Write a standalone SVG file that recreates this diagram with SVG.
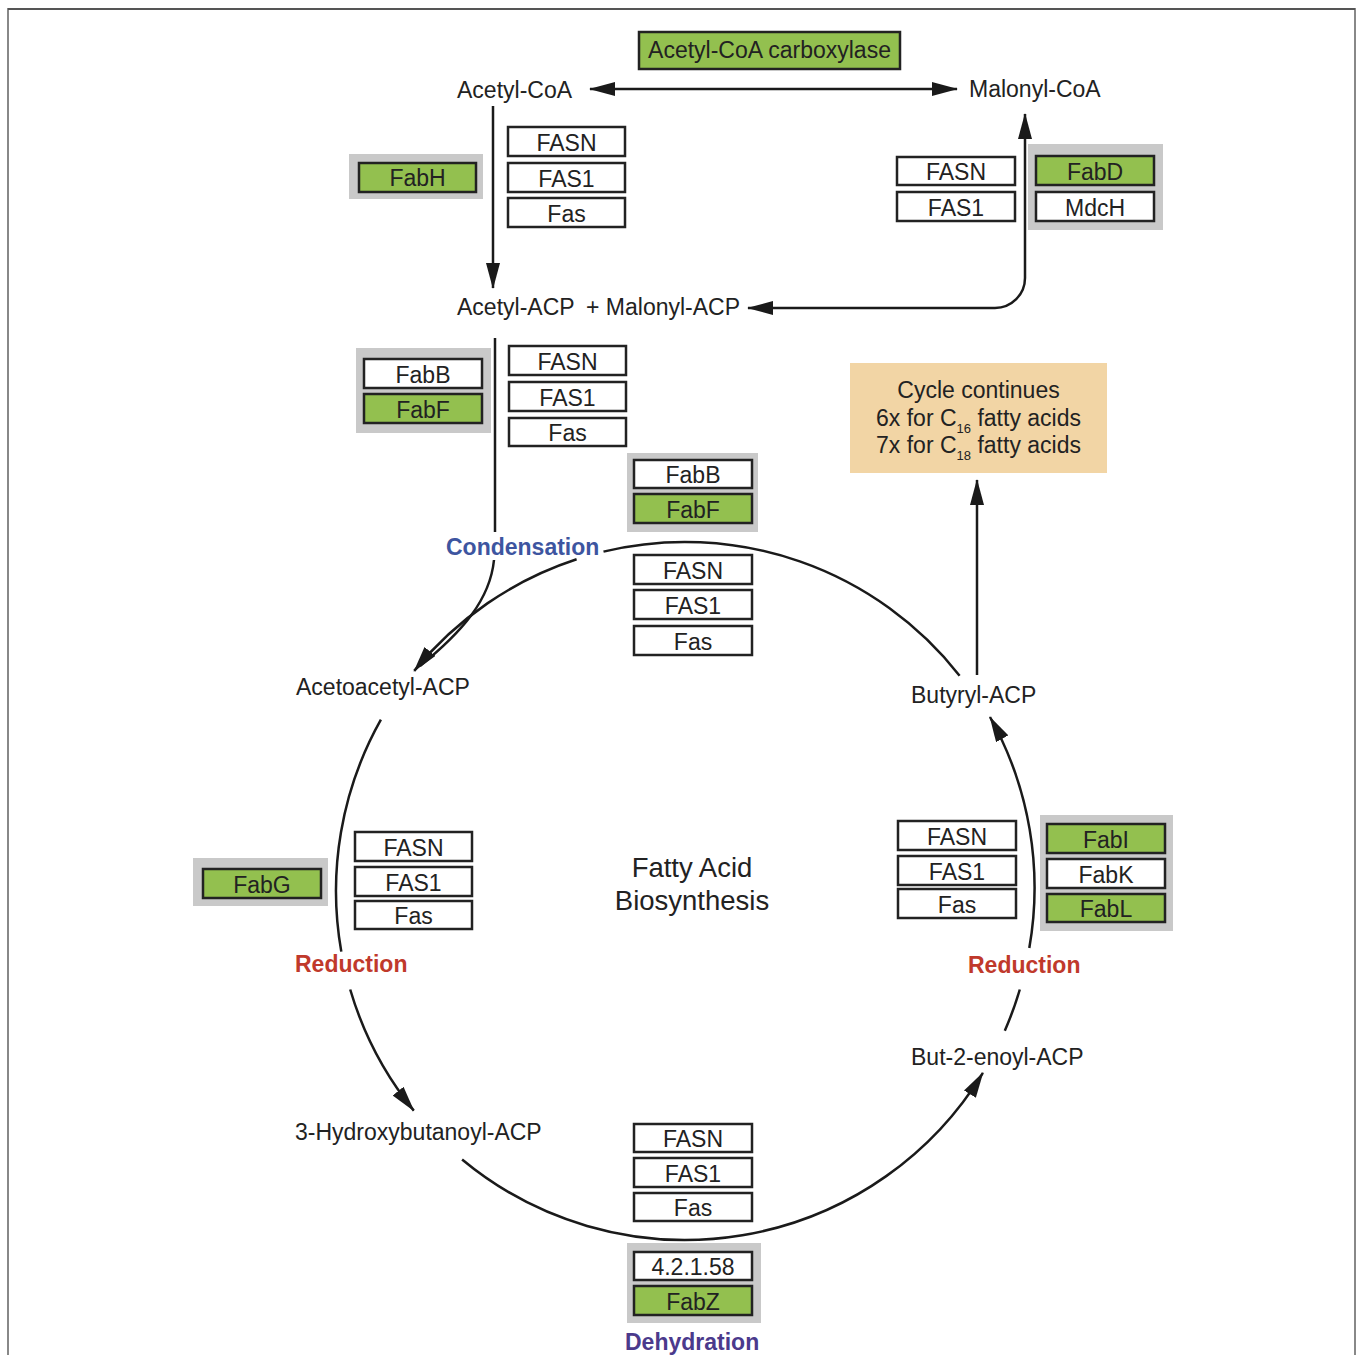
<svg xmlns="http://www.w3.org/2000/svg" width="1360" height="1355" viewBox="0 0 1360 1355">
<style>
text{font-family:"Liberation Sans",Arial,sans-serif;fill:#222}
.lbl{font-size:23px}
.bt{font-size:23px;text-anchor:middle}
.step{font-size:23px;font-weight:bold}
.box{fill:#fff;stroke:#222;stroke-width:2.5}
.grn{fill:#93c04f;stroke:#222;stroke-width:2.5}
.shade{fill:#c9c9c9}
.conn{fill:none;stroke:#1a1a1a;stroke-width:2.5}
</style>
<defs>
<marker id="ah" markerUnits="userSpaceOnUse" markerWidth="26" markerHeight="14" viewBox="0 0 26 14" refX="25" refY="7" orient="auto-start-reverse">
<path d="M0,0 L26,7 L0,14 z" fill="#1a1a1a"/>
</marker>
</defs>
<rect width="1360" height="1355" fill="#fff"/>
<path d="M8,1355 V9 H1355 V1355" fill="none" stroke="#888" stroke-width="2"/>
<path d="M8,9 H1355" stroke="#555" stroke-width="2"/>

<g id="connectors">
<path class="conn" d="M590,89 H957" marker-start="url(#ah)" marker-end="url(#ah)"/>
<path class="conn" d="M493,106 V288" marker-end="url(#ah)"/>
<path class="conn" d="M748,308 H995 A30,30 0 0 0 1025,278 V114" marker-start="url(#ah)" marker-end="url(#ah)"/>
<path class="conn" d="M495,338 V532"/>
<path class="conn" d="M494,560 C490,600 462,632 420,666"/>
<path class="conn" d="M959.6,675.7 A349,349 0 0 0 603.5,551.6"/>
<path class="conn" d="M576.6,559.3 A349,349 0 0 0 414.2,670.9" marker-end="url(#ah)"/>
<path class="conn" d="M380.9,719.7 A349,349 0 0 0 341.3,951.6"/>
<path class="conn" d="M350.2,989.5 A349,349 0 0 0 413.8,1110.6" marker-end="url(#ah)"/>
<path class="conn" d="M462.1,1159.5 A349,349 0 0 0 982.9,1072.8" marker-end="url(#ah)"/>
<path class="conn" d="M1004.8,1030.7 A349,349 0 0 0 1019.8,989.5"/>
<path class="conn" d="M1029.3,948 A349,349 0 0 0 990,717" marker-end="url(#ah)"/>
<path class="conn" d="M977,675 V480" marker-end="url(#ah)"/>
</g>

<g id="acetyl-coa"><text class="lbl" x="457" y="98">Acetyl-CoA</text></g>
<g id="malonyl-coa"><text class="lbl" x="969" y="97">Malonyl-CoA</text></g>
<g id="acetyl-acp"><text class="lbl" x="457" y="315">Acetyl-ACP<tspan x="586">+ Malonyl-ACP</tspan></text></g>
<g id="acetoacetyl-acp"><text class="lbl" x="296" y="695">Acetoacetyl-ACP</text></g>
<g id="butyryl-acp"><text class="lbl" x="911" y="703">Butyryl-ACP</text></g>
<g id="hydroxybutanoyl-acp"><text class="lbl" x="295" y="1140">3-Hydroxybutanoyl-ACP</text></g>
<g id="butenoyl-acp"><text class="lbl" x="911" y="1065">But-2-enoyl-ACP</text></g>
<g id="center-title">
<text x="692" y="877" style="font-size:27.5px;text-anchor:middle">Fatty Acid</text>
<text x="692" y="910" style="font-size:27.5px;text-anchor:middle">Biosynthesis</text>
</g>
<g id="condensation"><text class="step" x="446" y="555" style="fill:#3d55a0">Condensation</text></g>
<g id="reduction-left"><text class="step" x="295" y="972" style="fill:#c0392b">Reduction</text></g>
<g id="reduction-right"><text class="step" x="968" y="973" style="fill:#c0392b">Reduction</text></g>
<g id="dehydration"><text class="step" x="625" y="1350" style="fill:#4b3a8c">Dehydration</text></g>

<g id="cycle-continues">
<rect x="850" y="363" width="257" height="110" fill="#f2d5a5"/>
<text class="lbl" x="978.5" y="398" text-anchor="middle">Cycle continues</text>
<text class="lbl" x="978.5" y="426" text-anchor="middle">6x for C<tspan dy="7" font-size="13">16</tspan><tspan dy="-7"> fatty acids</tspan></text>
<text class="lbl" x="978.5" y="453" text-anchor="middle">7x for C<tspan dy="7" font-size="13">18</tspan><tspan dy="-7"> fatty acids</tspan></text>
</g>

<g id="acc">
<rect class="grn" x="639" y="32" width="261" height="37"/>
<text class="bt" x="769.5" y="58">Acetyl-CoA carboxylase</text>
</g>

<g id="fabH">
<rect class="shade" x="349" y="154" width="134" height="45"/>
<rect class="grn" x="359" y="163" width="117" height="29"/>
<text class="bt" x="417.5" y="186">FabH</text>
</g>
<g id="fas-1">
<rect class="box" x="508" y="127" width="117" height="29"/><text class="bt" x="566.5" y="151">FASN</text>
<rect class="box" x="508" y="163" width="117" height="29"/><text class="bt" x="566.5" y="187">FAS1</text>
<rect class="box" x="508" y="198" width="117" height="29"/><text class="bt" x="566.5" y="222">Fas</text>
</g>
<g id="fas-2">
<rect class="box" x="897" y="157" width="118" height="28"/><text class="bt" x="956" y="180">FASN</text>
<rect class="box" x="897" y="192" width="118" height="29"/><text class="bt" x="956" y="216">FAS1</text>
</g>
<g id="fabD-mdcH">
<rect class="shade" x="1028" y="144" width="135" height="86"/>
<rect class="grn" x="1036" y="156" width="118" height="29"/><text class="bt" x="1095" y="180">FabD</text>
<rect class="box" x="1036" y="192" width="118" height="29"/><text class="bt" x="1095" y="216">MdcH</text>
</g>
<g id="fabBF-1">
<rect class="shade" x="356" y="348" width="135" height="85"/>
<rect class="box" x="364" y="359" width="118" height="29"/><text class="bt" x="423" y="383">FabB</text>
<rect class="grn" x="364" y="394" width="118" height="29"/><text class="bt" x="423" y="418">FabF</text>
</g>
<g id="fas-3">
<rect class="box" x="509" y="346" width="117" height="29"/><text class="bt" x="567.5" y="370">FASN</text>
<rect class="box" x="509" y="382" width="117" height="29"/><text class="bt" x="567.5" y="406">FAS1</text>
<rect class="box" x="509" y="418" width="117" height="28"/><text class="bt" x="567.5" y="441">Fas</text>
</g>
<g id="fabBF-2">
<rect class="shade" x="627" y="453" width="131" height="79"/>
<rect class="box" x="634" y="460" width="118" height="28"/><text class="bt" x="693" y="483">FabB</text>
<rect class="grn" x="634" y="494" width="118" height="29"/><text class="bt" x="693" y="518">FabF</text>
</g>
<g id="fas-4">
<rect class="box" x="634" y="555" width="118" height="29"/><text class="bt" x="693" y="579">FASN</text>
<rect class="box" x="634" y="590" width="118" height="29"/><text class="bt" x="693" y="614">FAS1</text>
<rect class="box" x="634" y="626" width="118" height="29"/><text class="bt" x="693" y="650">Fas</text>
</g>
<g id="fabG">
<rect class="shade" x="193" y="858" width="135" height="48"/>
<rect class="grn" x="203" y="869" width="118" height="29"/><text class="bt" x="262" y="893">FabG</text>
</g>
<g id="fas-5">
<rect class="box" x="355" y="832" width="117" height="29"/><text class="bt" x="413.5" y="856">FASN</text>
<rect class="box" x="355" y="867" width="117" height="29"/><text class="bt" x="413.5" y="891">FAS1</text>
<rect class="box" x="355" y="901" width="117" height="28"/><text class="bt" x="413.5" y="924">Fas</text>
</g>
<g id="fas-6">
<rect class="box" x="898" y="821" width="118" height="29"/><text class="bt" x="957" y="845">FASN</text>
<rect class="box" x="898" y="856" width="118" height="29"/><text class="bt" x="957" y="880">FAS1</text>
<rect class="box" x="898" y="889" width="118" height="29"/><text class="bt" x="957" y="913">Fas</text>
</g>
<g id="fabIKL">
<rect class="shade" x="1040" y="815" width="133" height="116"/>
<rect class="grn" x="1047" y="824" width="118" height="29"/><text class="bt" x="1106" y="848">FabI</text>
<rect class="box" x="1047" y="859" width="118" height="29"/><text class="bt" x="1106" y="883">FabK</text>
<rect class="grn" x="1047" y="894" width="118" height="28"/><text class="bt" x="1106" y="917">FabL</text>
</g>
<g id="fas-7">
<rect class="box" x="634" y="1124" width="118" height="28"/><text class="bt" x="693" y="1147">FASN</text>
<rect class="box" x="634" y="1158" width="118" height="29"/><text class="bt" x="693" y="1182">FAS1</text>
<rect class="box" x="634" y="1193" width="118" height="28"/><text class="bt" x="693" y="1216">Fas</text>
</g>
<g id="fabZ">
<rect class="shade" x="627" y="1243" width="134" height="80"/>
<rect class="box" x="634" y="1252" width="118" height="28"/><text class="bt" x="693" y="1275">4.2.1.58</text>
<rect class="grn" x="634" y="1286" width="118" height="29"/><text class="bt" x="693" y="1310">FabZ</text>
</g>
</svg>
